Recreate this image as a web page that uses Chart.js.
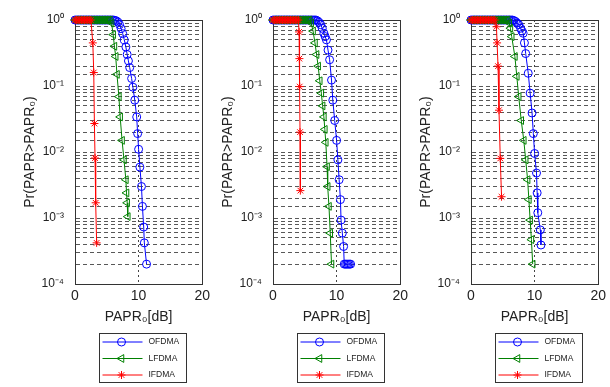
<!DOCTYPE html>
<html><head><meta charset="utf-8">
<script src="https://cdn.jsdelivr.net/npm/chart.js@4.4.0/dist/chart.umd.min.js"></script>
<style>
html,body{margin:0;padding:0;background:#fff;}
#wrap{position:relative;width:610px;height:387px;overflow:hidden;background:#fff;}
canvas{position:absolute;top:0;}
</style></head><body>
<div id="wrap">
<canvas id="c1" width="214" height="387" style="left:0px;width:214px;height:387px"></canvas>
<canvas id="c2" width="214" height="387" style="left:198px;width:214px;height:387px"></canvas>
<canvas id="c3" width="214" height="387" style="left:396px;width:214px;height:387px"></canvas>
</div>
<script>
// ---- data (x = PAPR0 in dB, y = Pr(PAPR>PAPR0)) ----
const seriesNames = ['OFDMA', 'LFDMA', 'IFDMA'];
const xTickValues = [0, 10, 20];
const xTickLabels = ['0', '10', '20'];
const yTickValues = [1e-4, 1e-3, 1e-2, 1e-1, 1];
const yTickLabels = ['10\u207B\u2074', '10\u207B\u00B3', '10\u207B\u00B2', '10\u207B\u00B9', '10\u2070'];
const xTitle = 'PAPR\u2080[dB]';
const yTitle = 'Pr(PAPR>PAPR\u2080)';

const panel1OFDMA = [[0,1],[0.25,1],[0.5,1],[0.75,1],[1,1],[1.25,1],[1.5,1],[1.75,1],[2,1],[2.25,1],[2.5,1],[2.75,1],[3,1],[3.25,1],[3.5,1],[3.75,1],[4,1],[4.25,1],[4.5,1],[4.75,1],[5,1],[5.25,1],[5.5,1],[5.75,1],[6,1],
  [6.25,0.99],[6.5,0.97],[6.75,0.93],[7,0.85],[7.25,0.74],[7.5,0.62],[7.75,0.5],[8,0.39],[8.2,0.3],[8.4,0.24],[8.6,0.19],[8.9,0.13],[9.1,0.096],[9.4,0.061],[9.7,0.034],[9.85,0.019],[10,0.011],[10.2,0.0059],[10.45,0.003],[10.6,0.0015],[10.8,0.00073],[10.9,0.00042],[11.25,0.0002]];
const panel1LFDMA = [[0,1],[0.25,1],[0.5,1],[0.75,1],[1,1],[1.25,1],[1.5,1],[1.75,1],[2,1],[2.25,1],[2.5,1],[2.75,1],[3,1],[3.25,1],[3.5,1],[3.75,1],[4,1],[4.25,1],[4.5,1],[4.75,1],[5,1],[5.25,1],[5.5,1],
  [5.75,0.9],[6,0.6],[6.2,0.4],[6.4,0.28],[6.6,0.15],[6.9,0.069],[7.1,0.034],[7.4,0.015],[7.7,0.0076],[8,0.0038],[8.1,0.0024],[8.2,0.0017],[8.3,0.00105]];
const panel1IFDMA = [[0,1],[0.25,1],[0.5,1],[0.75,1],[1,1],[1.25,1],[1.5,1],[1.75,1],[2,1],[2.25,1],[2.5,1],
  [2.8,0.45],[2.95,0.16],[3.05,0.027],[3.15,0.0081],[3.25,0.0017],[3.4,0.00042]];

const panel2OFDMA = [[0,1],[0.25,1],[0.5,1],[0.75,1],[1,1],[1.25,1],[1.5,1],[1.75,1],[2,1],[2.25,1],[2.5,1],[2.75,1],[3,1],[3.25,1],[3.5,1],[3.75,1],[4,1],[4.25,1],[4.5,1],[4.75,1],[5,1],[5.25,1],[5.5,1],[5.75,1],[6,1],[6.25,1],[6.5,1],[6.75,1],
  [7,0.97],[7.25,0.92],[7.5,0.85],[7.75,0.75],[8,0.63],[8.2,0.56],[8.4,0.5],[8.65,0.35],[8.9,0.25],[9.2,0.123],[9.4,0.061],[9.7,0.03],[10,0.015],[10.2,0.0076],[10.4,0.0038],[10.6,0.0019],[10.7,0.00093],[10.9,0.00059],[11.1,0.00037],
  [11.2,0.0002],[11.4,0.0002],[11.6,0.0002],[11.8,0.0002],[12,0.0002],[12.2,0.0002]];
const panel2LFDMA = [[0,1],[0.25,1],[0.5,1],[0.75,1],[1,1],[1.25,1],[1.5,1],[1.75,1],[2,1],[2.25,1],[2.5,1],[2.75,1],[3,1],[3.25,1],[3.5,1],[3.75,1],[4,1],[4.25,1],[4.5,1],[4.75,1],[5,1],[5.25,1],[5.5,1],[5.75,1],
  [6,0.9],[6.3,0.68],[6.6,0.45],[6.85,0.3],[7.1,0.2],[7.35,0.12],[7.6,0.078],[7.8,0.05],[8,0.034],[8.15,0.022],[8.3,0.014],[8.5,0.006],[8.6,0.003],[8.8,0.0015],[9,0.00059],[9.2,0.0002]];
const panel2IFDMA = [[0,1],[0.25,1],[0.5,1],[0.75,1],[1,1],[1.25,1],[1.5,1],[1.75,1],[2,1],[2.25,1],[2.5,1],[2.75,1],[3,1],[3.25,1],[3.5,1],[3.75,1],[4,1],
  [4.1,0.66],[4.15,0.26],[4.2,0.098],[4.25,0.02],[4.3,0.0026]];

const panel3OFDMA = [[0,1],[0.25,1],[0.5,1],[0.75,1],[1,1],[1.25,1],[1.5,1],[1.75,1],[2,1],[2.25,1],[2.5,1],[2.75,1],[3,1],[3.25,1],[3.5,1],[3.75,1],[4,1],[4.25,1],[4.5,1],[4.75,1],[5,1],[5.25,1],[5.5,1],[5.75,1],[6,1],[6.25,1],[6.5,1],
  [6.75,0.98],[7,0.95],[7.25,0.9],[7.5,0.85],[7.8,0.75],[8,0.68],[8.2,0.63],[8.4,0.45],[8.6,0.31],[9,0.156],[9.3,0.078],[9.6,0.039],[9.8,0.019],[10,0.0095],[10.3,0.0048],[10.4,0.0024],[10.5,0.0012],[10.9,0.00066],[11,0.00039]];
const panel3LFDMA = [[0,1],[0.25,1],[0.5,1],[0.75,1],[1,1],[1.25,1],[1.5,1],[1.75,1],[2,1],[2.25,1],[2.5,1],[2.75,1],[3,1],[3.25,1],[3.5,1],[3.75,1],[4,1],[4.25,1],[4.5,1],[4.75,1],[5,1],[5.25,1],[5.5,1],[5.75,1],
  [6,0.9],[6.2,0.75],[6.4,0.56],[6.9,0.28],[7.2,0.14],[7.5,0.069],[7.9,0.03],[8.3,0.015],[8.6,0.0076],[8.9,0.0038],[9.1,0.0019],[9.3,0.00093],[9.5,0.00047],[9.7,0.0002]];
const panel3IFDMA = [[0,1],[0.25,1],[0.5,1],[0.75,1],[1,1],[1.25,1],[1.5,1],[1.75,1],[2,1],[2.25,1],[2.5,1],[2.75,1],[3,1],[3.25,1],[3.5,1],[3.75,1],
  [4,0.79],[4.1,0.45],[4.25,0.2],[4.4,0.043],[4.6,0.008],[4.8,0.0021]];

const panels = [
  {canvas: 'c1', series: [panel1OFDMA, panel1LFDMA, panel1IFDMA]},
  {canvas: 'c2', series: [panel2OFDMA, panel2LFDMA, panel2IFDMA]},
  {canvas: 'c3', series: [panel3OFDMA, panel3LFDMA, panel3IFDMA]}
];

// ---- styles ----
const seriesStyle = [
  {color: '#0000ff', pointStyle: 'circle', rotation: 0, radius: 4, order: 3},
  {color: '#008000', pointStyle: 'triangle', rotation: -90, radius: 4.5, order: 2},
  {color: '#ff0000', pointStyle: 'star', rotation: 0, radius: 4, order: 1}
];
const FONT = '"Liberation Sans", Arial, Helvetica, sans-serif';

const framePlugin = {
  id: 'frame',
  beforeDatasetsDraw(chart) {
    const a = chart.chartArea, ctx = chart.ctx;
    const l = Math.round(a.left) + 0.5, t = Math.round(a.top) + 0.5;
    const r = Math.round(a.right) + 0.5, b = Math.round(a.bottom) + 0.5;
    ctx.save();
    ctx.strokeStyle = '#333';
    ctx.lineWidth = 1;
    ctx.setLineDash([]);
    ctx.strokeRect(l, t, r - l, b - t);
    ctx.restore();
  }
};

const legendPlugin = {
  id: 'boxLegend',
  afterDraw(chart) {
    const a = chart.chartArea, ctx = chart.ctx;
    const cx = (a.left + a.right) / 2;
    const L = Math.round(cx - 40) + 0.5, T = 333.5, W = 87, H = 49;
    ctx.save();
    ctx.setLineDash([]);
    ctx.fillStyle = '#fff';
    ctx.fillRect(L, T, W, H);
    ctx.strokeStyle = '#333';
    ctx.lineWidth = 1;
    ctx.strokeRect(L, T, W, H);
    chart.data.datasets.forEach((ds, i) => {
      const y = T + 8.5 + i * 16.5;
      ctx.strokeStyle = ds.borderColor;
      ctx.lineWidth = 1;
      ctx.beginPath(); ctx.moveTo(L + 3, y); ctx.lineTo(L + 43, y); ctx.stroke();
      ctx.fillStyle = 'rgba(0,0,0,0)';
      Chart.helpers.drawPoint(ctx, {pointStyle: ds.pointStyle, radius: ds.pointRadius, rotation: ds.pointRotation, borderWidth: 1}, L + 22, y);
      ctx.fillStyle = '#222';
      ctx.font = '8.5px ' + FONT;
      ctx.textBaseline = 'middle';
      ctx.textAlign = 'left';
      ctx.fillText(ds.label, L + 49, y);
    });
    ctx.restore();
  }
};

panels.forEach(p => {
  const datasets = p.series.map((pts, i) => ({
    label: seriesNames[i],
    data: pts.map(q => ({x: q[0], y: q[1]})),
    borderColor: seriesStyle[i].color,
    backgroundColor: 'rgba(0,0,0,0)',
    pointBorderColor: seriesStyle[i].color,
    pointBackgroundColor: 'rgba(0,0,0,0)',
    pointStyle: seriesStyle[i].pointStyle,
    pointRotation: seriesStyle[i].rotation,
    pointRadius: seriesStyle[i].radius,
    pointBorderWidth: 1,
    borderWidth: 1,
    tension: 0,
    clip: false,
    order: seriesStyle[i].order
  }));
  new Chart(document.getElementById(p.canvas), {
    type: 'line',
    data: {datasets},
    options: {
      responsive: false,
      animation: false,
      devicePixelRatio: 1,
      layout: {padding: {left: 0, right: 11, top: 20, bottom: 53}},
      plugins: {legend: {display: false}, tooltip: {enabled: false}},
      scales: {
        x: {
          type: 'linear', min: 0, max: 20,
          afterBuildTicks: s => { s.ticks = xTickValues.map(v => ({value: v})); },
          afterFit: s => { s.height = 50; },
          ticks: {
            callback: v => { const k = xTickValues.indexOf(v); return k >= 0 ? xTickLabels[k] : ''; },
            autoSkip: false, maxRotation: 0, padding: 4,
            color: '#222', font: {family: FONT, size: 14}
          },
          grid: {color: '#444', drawTicks: false, lineWidth: 1},
          border: {display: true, color: '#333', width: 1, dash: [2, 3]},
          title: {display: true, text: xTitle, color: '#222', font: {family: FONT, size: 14}, padding: {top: 4, bottom: 8}}
        },
        y: {
          type: 'logarithmic', min: 1e-4, max: 1,
          afterFit: s => { s.width = 75; },
          ticks: {
            callback: v => { const k = yTickValues.findIndex(t => Math.abs(Math.log10(t) - Math.log10(v)) < 1e-6); return k >= 0 ? yTickLabels[k] : ''; },
            autoSkip: false, padding: 11,
            color: '#222', font: {family: FONT, size: 12}
          },
          grid: {color: 'rgba(70,70,70,0.9)', drawTicks: false, lineWidth: 1},
          border: {display: true, color: '#333', width: 1, dash: [4, 3]},
          title: {display: true, text: yTitle, color: '#222', font: {family: FONT, size: 14}, padding: {top: 22, bottom: 0}}
        }
      }
    },
    plugins: [framePlugin, legendPlugin]
  });
});
</script>
</body></html>
